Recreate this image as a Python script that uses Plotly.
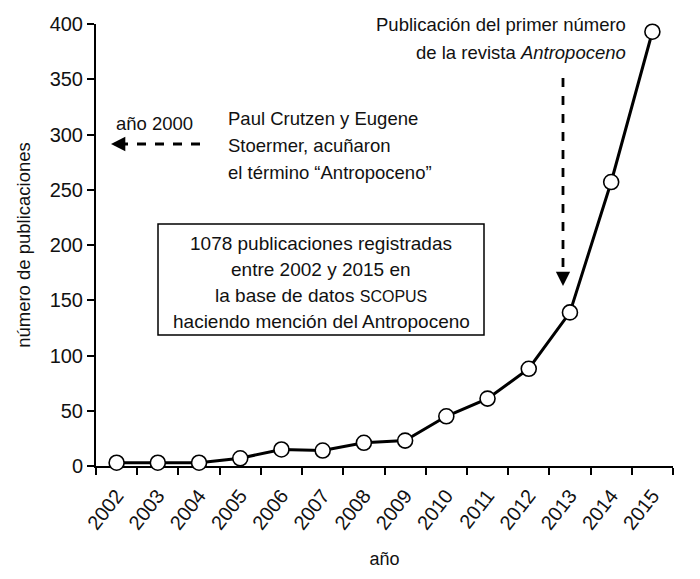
import plotly.graph_objects as go

years = ["2002", "2003", "2004", "2005", "2006", "2007", "2008",
         "2009", "2010", "2011", "2012", "2013", "2014", "2015"]
publicaciones = [3, 3, 3, 7, 15, 14, 21, 23, 45, 61, 88, 139, 257, 393]

W, H = 700, 579
ML, MR, MT, MB = 96, 27, 24, 113
PW, PH = W - ML - MR, H - MT - MB

def px(x):
    return (x - ML) / PW

def py(y):
    return (H - MB - y) / PH

FONT = "Liberation Sans, Arial, sans-serif"
TXT = "#111111"

fig = go.Figure()
fig.add_trace(go.Scatter(
    x=years, y=publicaciones, mode="lines+markers",
    line=dict(color="black", width=3),
    marker=dict(size=15, color="white", line=dict(color="black", width=1.6)),
    cliponaxis=False, showlegend=False,
))

annots = []
def text(x, y, s, anchor="left", size=18.5):
    annots.append(dict(x=px(x), y=py(y), xref="paper", yref="paper", text=s,
                       showarrow=False, xanchor=anchor, yanchor="middle",
                       font=dict(family=FONT, size=size, color=TXT)))

# top-right annotation
text(628, 25, "Publicación del primer número", "right")
text(628, 52, "de la revista <i>Antropoceno</i>", "right")
# left annotation
text(114, 124, "año 2000", "left")
text(226, 118, "Paul Crutzen y Eugene", "left")
text(226, 145, "Stoermer, acuñaron", "left")
text(226, 172, "el término “Antropoceno”", "left")
# box text
cx = 321
text(cx, 243, "1078 publicaciones registradas", "center", 19)
text(cx, 269, "entre 2002 y 2015 en", "center", 19)
text(cx, 295, "la base de datos <span style='font-size:16px'>SCOPUS</span>", "center", 19)
text(cx, 321, "haciendo mención del Antropoceno", "center", 19)

# arrowheads
annots.append(dict(x=px(563), y=py(286), xref="paper", yref="paper", text="",
                   showarrow=True, ax=0, ay=-14, arrowhead=2, arrowsize=1.1,
                   arrowwidth=2.6, arrowcolor="black"))
annots.append(dict(x=px(111), y=py(144), xref="paper", yref="paper", text="",
                   showarrow=True, ax=14, ay=0, arrowhead=2, arrowsize=1.1,
                   arrowwidth=2.6, arrowcolor="black"))

shapes = [
    dict(type="line", xref="paper", yref="paper", x0=px(563), x1=px(563),
         y0=py(78), y1=py(274), line=dict(color="black", width=2.8, dash="dash")),
    dict(type="line", xref="paper", yref="paper", x0=px(200), x1=px(124),
         y0=py(144), y1=py(144), line=dict(color="black", width=2.8, dash="dash")),
    dict(type="rect", xref="paper", yref="paper", x0=px(158), x1=px(484),
         y0=py(224), y1=py(335), line=dict(color="black", width=1.5),
         fillcolor="rgba(0,0,0,0)"),
]

fig.update_layout(
    width=W, height=H, margin=dict(l=ML, r=MR, t=MT, b=MB),
    paper_bgcolor="white", plot_bgcolor="white",
    font=dict(family=FONT, color=TXT),
    annotations=annots, shapes=shapes,
    xaxis=dict(type="category", range=[-0.5, 13.5], tickson="boundaries",
               ticks="outside", ticklen=7, tickwidth=2, tickcolor="black",
               showline=True, linecolor="black", linewidth=2, showgrid=False,
               tickangle=-52, tickfont=dict(size=20, color=TXT),
               ticklabelstandoff=8,
               layer="below traces",
               title=dict(text="año", font=dict(size=18, color=TXT), standoff=20)),
    yaxis=dict(range=[0, 400], dtick=50, ticks="outside", ticklen=7, tickwidth=2,
               tickcolor="black", showline=True, linecolor="black", linewidth=2,
               showgrid=False, zeroline=False, tickfont=dict(size=20, color=TXT),
               layer="below traces",
               title=dict(text="número de publicaciones", font=dict(size=18.5, color=TXT),
                          standoff=14)),
)

fig.write_html("out.html")
